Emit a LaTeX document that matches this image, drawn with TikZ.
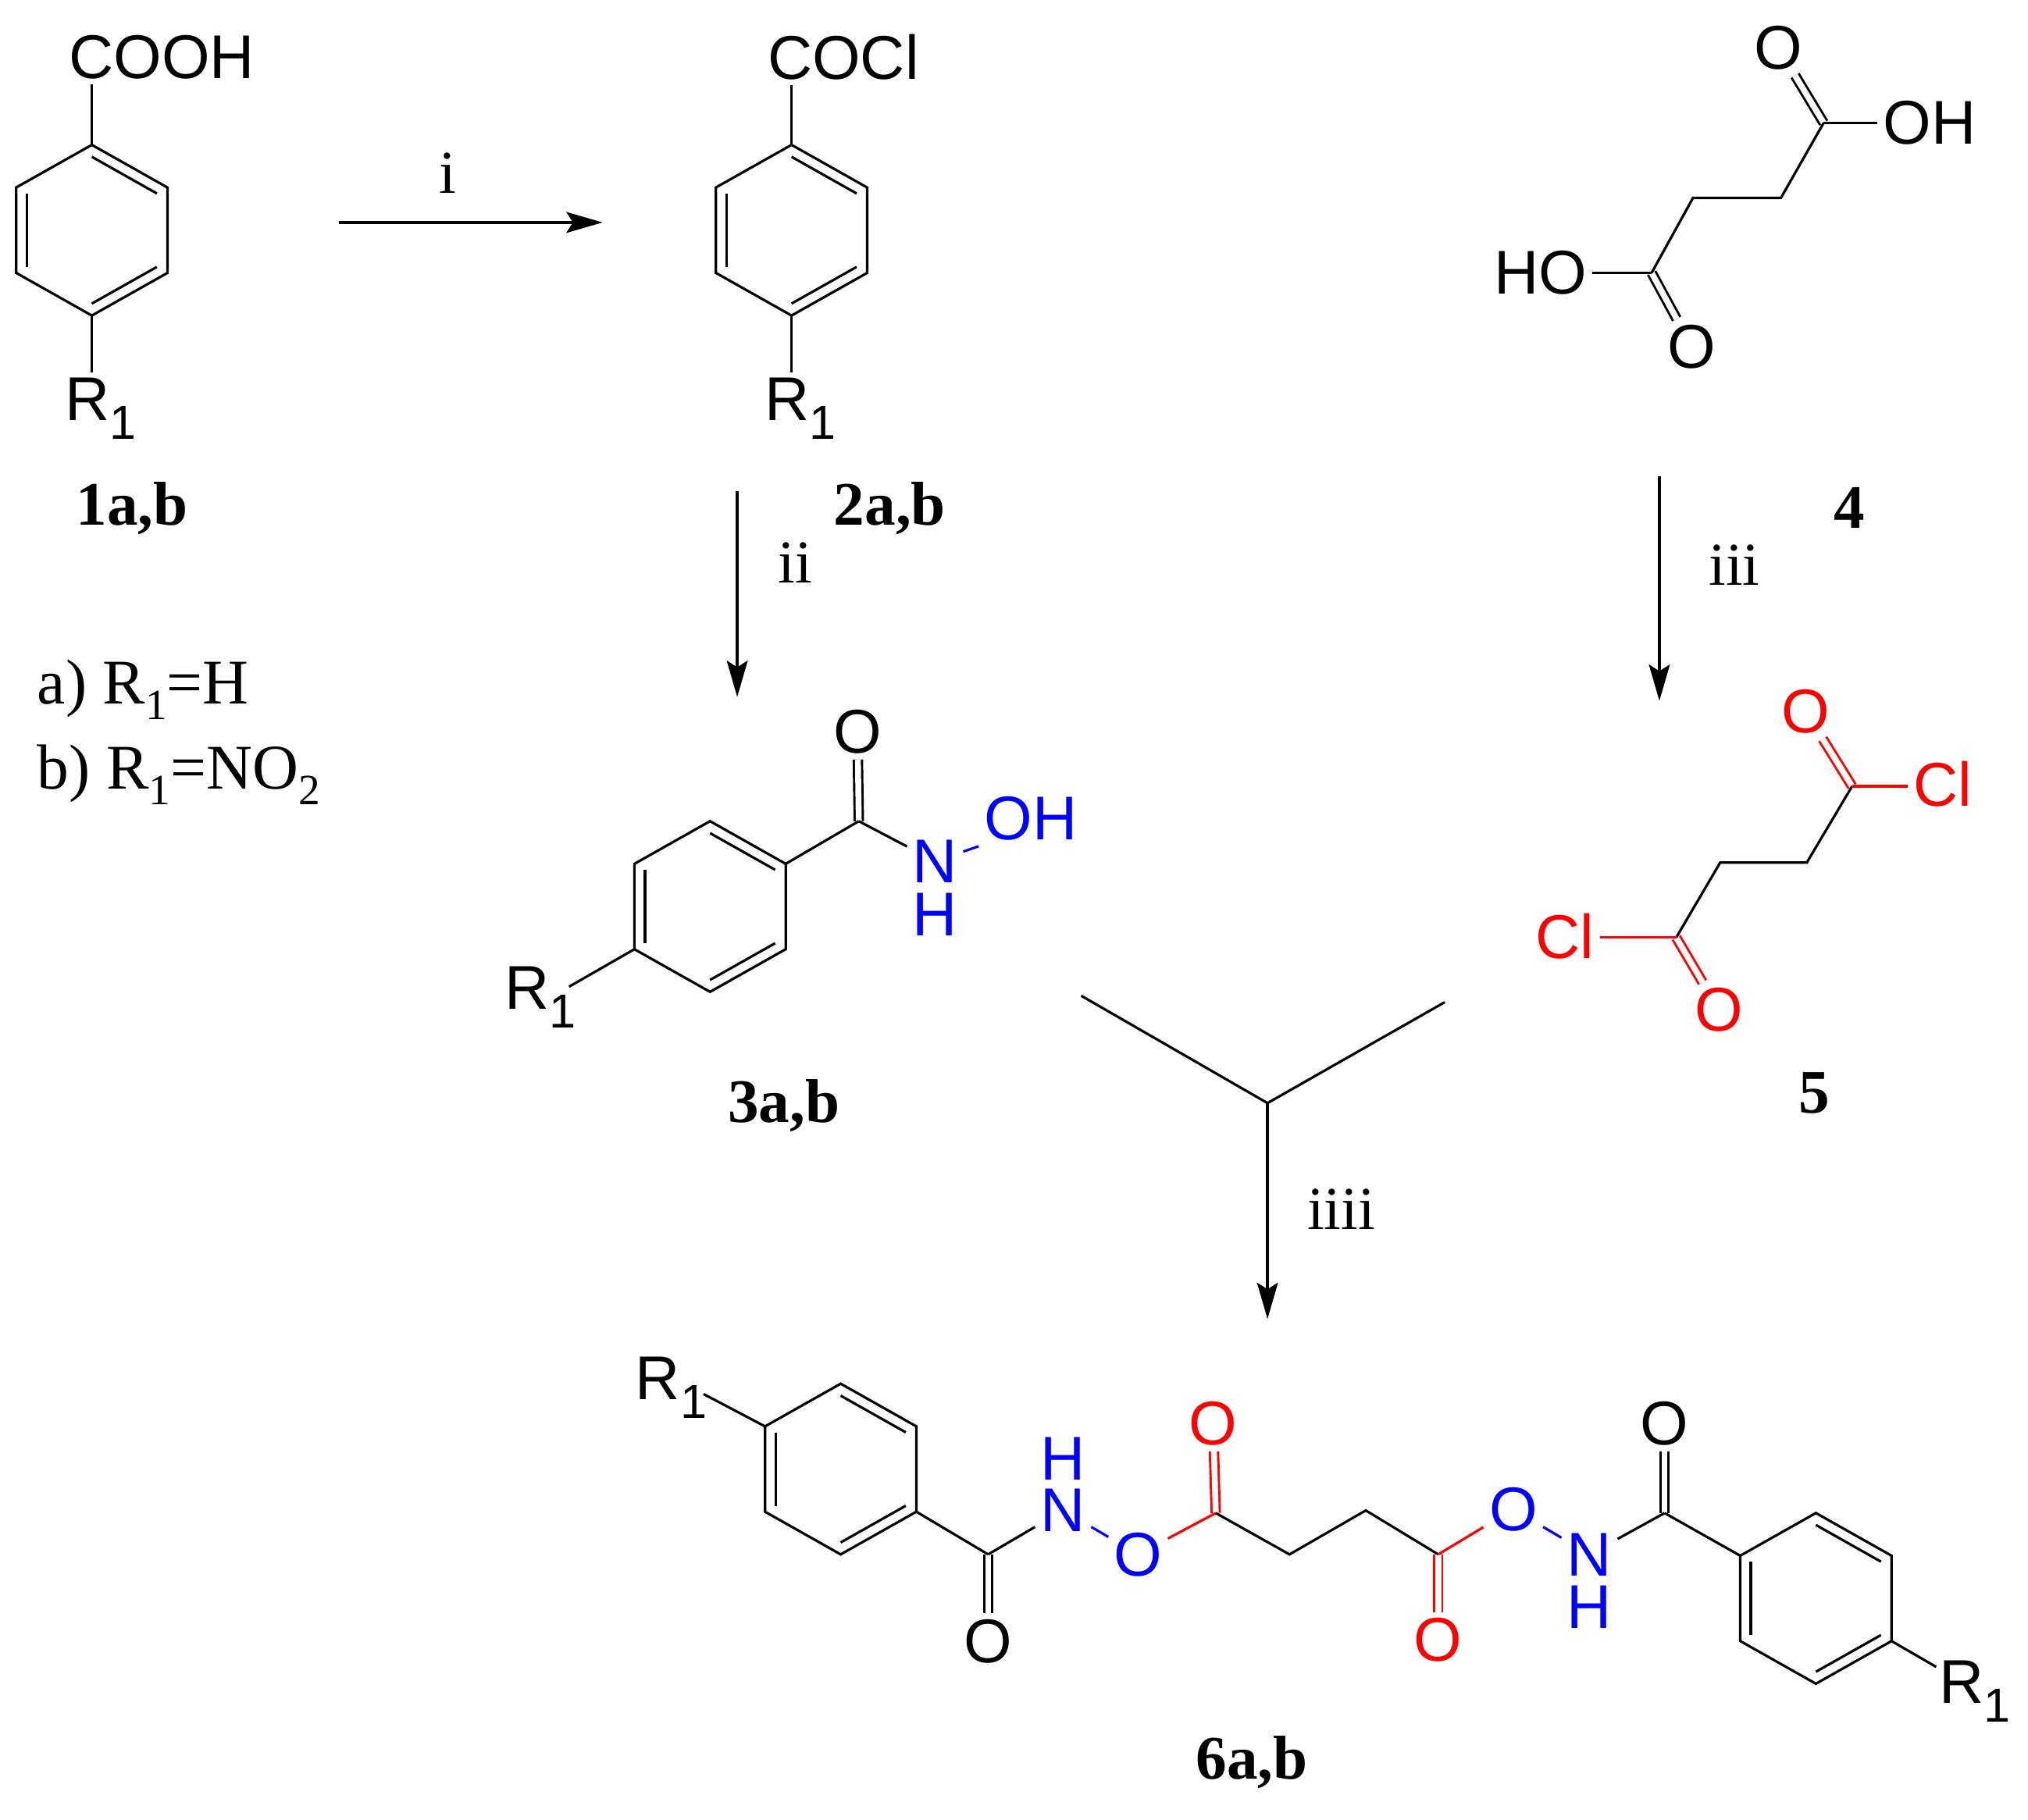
\documentclass[tikz,border=0pt]{standalone}
\usepackage{fontspec}
\setmainfont{Liberation Sans}
\newfontfamily\timesfont{Liberation Serif}
\usetikzlibrary{calc,arrows.meta}
\newcommand{\Rone}{R\raisebox{-.3em}{\fontsize{10.5}{10.5}\selectfont 1}}
\newcommand{\lowsub}[1]{\raisebox{-.25em}{\fontsize{9.5}{9.5}\selectfont #1}}
\begin{document}
\begin{tikzpicture}[x=0.01cm,y=-0.01cm,line width=0.55pt]
\tikzstyle{atom}=[inner sep=1pt,font=\fontsize{13.6}{15}\selectfont]
\tikzstyle{redatom}=[atom,text=red]
\tikzstyle{blueatom}=[atom,text=blue]
\tikzstyle{compound}=[inner sep=0pt,font=\timesfont\bfseries\fontsize{13.6}{15}\selectfont]
\tikzstyle{reagent}=[inner sep=0pt,font=\timesfont\fontsize{13.4}{15}\selectfont]
\tikzstyle{legend}=[inner sep=0pt,anchor=base west,font=\timesfont\fontsize{14}{16}\selectfont]
\tikzstyle{dbl}=[double,double distance=1.3pt,line width=0.5pt]
\tikzstyle{rxn}=[line width=0.8pt,-{Stealth[length=2.8mm,width=1.6mm,inset=0.5mm]}]
\useasboundingbox (0,0) rectangle (1568,1406.8);
\foreach \ring/\cx/\cy in {
	ra/71/178,
	rb/612/178,
	rc/549/701,
	rd/650/1136,
	re/1404/1236}{
	\coordinate (\ring0) at (\cx,\cy);
	\coordinate (\ring1) at (\cx,\cy-66);
	\coordinate (\ring2) at (\cx+58.5,\cy-33);
	\coordinate (\ring3) at (\cx+58.5,\cy+33);
	\coordinate (\ring4) at (\cx,\cy+66);
	\coordinate (\ring5) at (\cx-58.5,\cy+33);
	\coordinate (\ring6) at (\cx-58.5,\cy-33);
	\draw[line join=miter] (\ring1) -- (\ring2) -- (\ring3) -- (\ring4) -- (\ring5) -- (\ring6) -- cycle;
	\foreach \u/\v in {1/2,3/4,5/6}
		\draw ($(\ring0)!.86!(\ring\u)$) -- ($(\ring0)!.86!(\ring\v)$);
}
\foreach \name/\point in {
	c4a/{1410,95},
	c4b/{1377,153},
	c4c/{1309,153},
	c4d/{1277,211},
	c5a/{1432,608},
	c5b/{1397,667},
	c5c/{1330,667},
	c5d/{1296,725},
	c3a/{664,635},
	c6a/{764,1202},
	c6b/{940,1170},
	c6c/{997,1202},
	c6d/{1056,1168},
	c6e/{1112,1202},
	c6f/{1287,1170},
	endc/{440,763},
	endd/{544,1078},
	ende/{1497,1289},
	fork/{980,853},
	forkl/{836,770},
	forkr/{1117,775},
	a1s/{262,172},
	a1e/{466,172},
	a2s/{570,380},
	a2e/{570,539},
	a3s/{1283,368},
	a3e/{1283,542},
	a4e/{980,1020}}
	\coordinate (\name) at (\point);
\foreach \name/\point/\txt in {
	cooh/{125,44}/COOH,
	cocl/{652,44}/COCl,
	r1a/{78,316}/\Rone,
	r1b/{619,316}/\Rone,
	o4a/{1375,37}/O,
	oh4/{1492,95}/OH,
	ho4/{1191,211}/HO,
	o4b/{1308,268}/O,
	o3/{663,566}/O,
	r1c/{418,771}/\Rone,
	r1d/{519,1073}/\Rone,
	o6a/{764,1269}/O,
	o6d/{1287,1101}/O,
	r1e/{1527,1308}/\Rone}
	\node[atom] (\name) at (\point) {\txt};
\foreach \name/\point/\txt in {
	o5a/{1396,550}/O,
	cl5a/{1502,606}/Cl,
	cl5b/{1210,724}/Cl,
	o5b/{1329,781}/O,
	o6b/{938,1101}/O,
	o6c/{1112,1268}/O}
	\node[redatom] (\name) at (\point) {\txt};
\foreach \name/\point/\txt in {
	n3/{723,666}/N,
	h3/{723,707}/H,
	oh3/{797,633}/OH,
	h6a/{822,1128}/H,
	n6a/{822,1168}/N,
	o6x/{880,1202}/O,
	o6y/{1170,1167}/O,
	n6b/{1229,1202}/N,
	h6b/{1229,1243}/H}
	\node[blueatom] (\name) at (\point) {\txt};
\foreach \name/\point/\txt in {
	la/{102,393}/1a{,}b,
	lb/{688,393}/2a{,}b,
	lc/{1430,393}/4,
	ld/{606,855}/3a{,}b,
	le/{1403,845}/5,
	lf/{968,1363}/6a{,}b}
	\node[compound] (\name) at (\point) {\txt};
\foreach \name/\point/\txt in {
	ti/{346,134}/i,
	tii/{615,435}/ii,
	tiii/{1341,437}/iii,
	tiiii/{1037,935}/iiii}
	\node[reagent] (\name) at (\point) {\txt};
\node[legend] (lega) at (28,544) {a) R\lowsub{1}=H};
\node[legend] (legb) at (28,610) {b) R\lowsub{1}=NO\lowsub{2}};
\draw[dbl] (c4a) -- (o4a);
\draw[dbl] (c4d) -- (o4b);
\draw[dbl] (c3a) -- (o3);
\draw[dbl] (c6a) -- (o6a);
\draw[dbl] (c6f) -- (o6d);
\draw[dbl,red] (c5a) -- (o5a);
\draw[dbl,red] (c5d) -- (o5b);
\draw[dbl,red] (c6b) -- (o6b);
\draw[dbl,red] (c6e) -- (o6c);
\draw (ra1) -- (ra1 |- cooh.south);
\draw (ra4) -- (ra4 |- r1a.north);
\draw (rb1) -- (rb1 |- cocl.south);
\draw (rb4) -- (rb4 |- r1b.north);
\draw (c4a) -- (c4a -| oh4.west);
\draw (c4a) -- (c4b) -- (c4c) -- (c4d);
\draw (c4d) -- (c4d -| ho4.east);
\draw (c5a) -- (c5b) -- (c5c) -- (c5d);
\draw[red] (c5a) -- (c5a -| cl5a.west);
\draw[red] (c5d) -- (c5d -| cl5b.east);
\draw (rc2) -- (c3a);
\draw (c3a) -- (n3);
\draw[blue] (n3) -- (oh3.south west);
\draw (rc5) -- (endc);
\draw (rd6) -- (endd);
\draw (rd3) -- (c6a);
\draw (c6a) -- (n6a);
\draw[blue] (n6a) -- (o6x);
\draw[red] (o6x) -- (c6b);
\draw (c6b) -- (c6c) -- (c6d) -- (c6e);
\draw[red] (c6e) -- (o6y);
\draw[blue] (o6y) -- (n6b);
\draw (n6b) -- (c6f);
\draw (c6f) -- (re6);
\draw (re3) -- (ende);
\draw (forkl) -- (fork) -- (forkr);
\draw[rxn] (a1s) -- (a1e);
\draw[rxn] (a2s) -- (a2e);
\draw[rxn] (a3s) -- (a3e);
\draw[rxn] (fork) -- (a4e);
\end{tikzpicture}
\end{document}
